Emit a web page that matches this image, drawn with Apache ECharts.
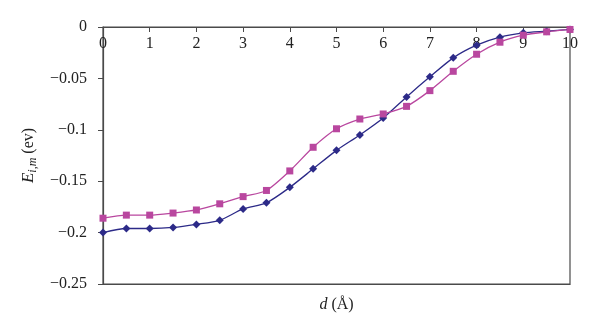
<!DOCTYPE html>
<html>
<head>
<meta charset="utf-8">
<script src="https://cdn.jsdelivr.net/npm/echarts@6/dist/echarts.min.js"></script>
<style>
  html, body { margin: 0; padding: 0; background: #fff; }
  #chart { width: 600px; height: 328px; }
</style>
</head>
<body>
<div id="chart"></div>
<script>
// distance d (angstrom)
const dValues = [0, 0.5, 1, 1.5, 2, 2.5, 3, 3.5, 4, 4.5, 5, 5.5, 6, 6.5, 7, 7.5, 8, 8.5, 9, 9.5, 10];

// diamonds (navy)
const seriesA = [-0.200, -0.196, -0.196, -0.195, -0.192, -0.188, -0.177, -0.171, -0.156, -0.138,
  -0.120, -0.105, -0.0885, -0.068, -0.0485, -0.030, -0.0177, -0.0099, -0.0057, -0.0041, -0.0024];

// squares (magenta)
const seriesB = [-0.186, -0.183, -0.183, -0.181, -0.178, -0.172, -0.165, -0.159, -0.140, -0.117,
  -0.099, -0.0895, -0.0846, -0.0772, -0.0619, -0.0431, -0.0265, -0.0148, -0.008, -0.0047, -0.0024];

const font = 'Liberation Serif';
const axisColor = '#4a4a4a';

function pairs(ys) {
  return dValues.map((x, i) => [x, ys[i]]);
}

const chart = echarts.init(document.getElementById('chart'));
chart.setOption({
  animation: false,
  grid: {
    left: 103, right: 30, top: 27, bottom: 44,
    show: true, borderColor: axisColor, borderWidth: 1.2, backgroundColor: 'transparent'
  },
  xAxis: [{
    type: 'value', position: 'top', min: 0, max: 10, interval: 1,
    axisLine: { show: true, lineStyle: { color: axisColor, width: 1.2 } },
    axisTick: { show: true, inside: true, length: 5, lineStyle: { color: axisColor } },
    axisLabel: { inside: true, margin: 9, color: '#222', fontFamily: font, fontSize: 16 },
    splitLine: { show: false }
  }, {
    type: 'value', position: 'bottom', min: 0, max: 10,
    axisLine: { show: true, lineStyle: { color: axisColor, width: 1.2 } },
    axisTick: { show: false }, axisLabel: { show: false }, splitLine: { show: false },
    name: '{i|d} (Å)', nameLocation: 'middle', nameGap: 13,
    nameTextStyle: {
      color: '#222', fontFamily: font, fontSize: 16,
      rich: { i: { fontStyle: 'italic', fontFamily: font, fontSize: 16, color: '#222' } }
    }
  }],
  yAxis: {
    type: 'value', min: -0.25, max: 0, interval: 0.05,
    axisLine: { show: true, lineStyle: { color: axisColor, width: 1.2 } },
    axisTick: { show: true, length: 5, lineStyle: { color: axisColor } },
    axisLabel: {
      margin: 16, color: '#222', fontFamily: font, fontSize: 16,
      formatter: v => String(+v.toFixed(2)).replace('-', '\u2212')
    },
    splitLine: { show: false },
    name: '{i|E}{s|i,m} (ev)', nameLocation: 'middle', nameGap: 64, nameRotate: 90,
    nameTextStyle: {
      color: '#222', fontFamily: font, fontSize: 16,
      rich: {
        i: { fontStyle: 'italic', fontFamily: font, fontSize: 17, color: '#222' },
        s: { fontStyle: 'italic', fontFamily: font, fontSize: 12, color: '#222', padding: [8, 0, 0, 0] }
      }
    }
  },
  series: [{
    type: 'line', data: pairs(seriesA), smooth: 0.25,
    symbol: 'diamond', symbolSize: 8,
    itemStyle: { color: '#2c2a88' },
    lineStyle: { color: '#2c2a88', width: 1.3 }
  }, {
    type: 'line', data: pairs(seriesB), smooth: 0.25,
    symbol: 'rect', symbolSize: 7,
    itemStyle: { color: '#b9479f' },
    lineStyle: { color: '#b9479f', width: 1.3 }
  }]
});
</script>
</body>
</html>
